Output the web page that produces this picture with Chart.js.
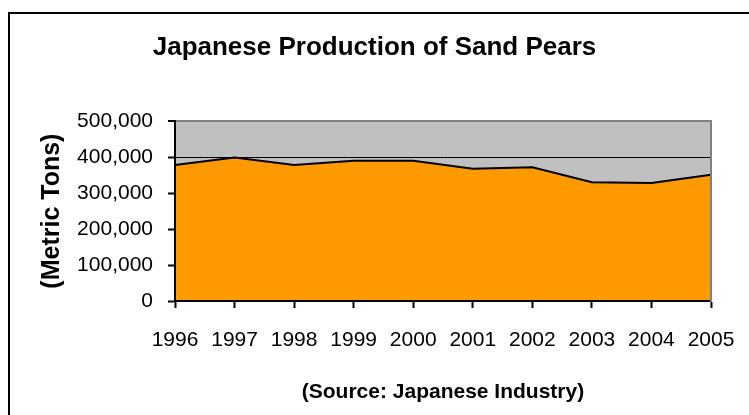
<!DOCTYPE html>
<html>
<head>
<meta charset="utf-8">
<script src="https://cdn.jsdelivr.net/npm/chart.js@4"></script>
<style>
  html, body { margin: 0; padding: 0; background: #fff; overflow: hidden; }
  #wrap { position: relative; width: 749px; height: 415px; }
  #chart { position: absolute; left: 0; top: 0; }
  /* chart frame, cropped on the right and bottom like the original */
  .frame {
    position: absolute; left: 8px; top: 12px; width: 800px; height: 500px;
    border: 2px solid #000; pointer-events: none;
  }
</style>
</head>
<body>
<div id="wrap">
  <canvas id="chart" width="749" height="415"></canvas>
  <div class="frame"></div>
</div>
<script>
// data
const years = ["1996", "1997", "1998", "1999", "2000", "2001", "2002", "2003", "2004", "2005"];
const production = [378000, 399000, 378000, 390000, 390000, 368000, 372000, 330000, 328000, 351000];
const yTicks = [0, 100000, 200000, 300000, 400000, 500000];

const chartTitle = "Japanese Production of Sand Pears";
const yTitle = "(Metric Tons)";
const sourceNote = "(Source: Japanese Industry)";

const family = "'Liberation Sans', Arial, sans-serif";

// grey plot background
const plotBackground = {
  id: "plotBackground",
  beforeDraw(chart) {
    const { ctx, chartArea } = chart;
    ctx.save();
    ctx.fillStyle = "#C0C0C0";
    ctx.fillRect(chartArea.left, chartArea.top, chartArea.right - chartArea.left, chartArea.bottom - chartArea.top);
    ctx.restore();
  },
};

var ctx = document.getElementById("chart").getContext("2d");

new Chart(ctx, {
  type: "line",
  data: {
    labels: years,
    datasets: [
      {
        label: "Production",
        data: production,
        borderColor: "#000",
        borderWidth: 2,
        backgroundColor: "#FF9900",
        fill: "origin",
        pointRadius: 0,
        tension: 0,
      },
    ],
  },
  options: {
    responsive: false,
    animation: false,
    layout: { padding: 0 },
    plugins: {
      legend: { display: false },
      tooltip: { enabled: false },
      title: {
        display: true,
        text: chartTitle,
        color: "#000",
        font: { family: family, size: 26, weight: "bold" },
        padding: { top: 32, bottom: 58 },
      },
    },
    scales: {
      x: {
        offset: false,
        grid: {
          display: true,
          drawOnChartArea: false,
          drawTicks: true,
          tickLength: 7,
          tickColor: "#000",
          tickWidth: 2,
        },
        border: { display: true, color: "#000", width: 2, z: 1 },
        ticks: {
          color: "#000",
          padding: 20,
          autoSkip: false,
          maxRotation: 0,
          font: { family: family, size: 21 },
        },
        title: {
          display: true,
          text: sourceNote,
          color: "#000",
          font: { family: family, size: 21, weight: "bold" },
          padding: { top: 0, bottom: 10 },
        },
        afterFit(scale) {
          scale.height = 114;
          // the side axes already leave room for the end labels
          scale.paddingLeft = 0;
          scale.paddingRight = 0;
        },
      },
      y: {
        position: "left",
        min: 0,
        max: 500000,
        afterBuildTicks(scale) {
          scale.ticks = yTicks.map((v) => ({ value: v }));
        },
        grid: {
          display: true,
          drawOnChartArea: true,
          drawTicks: true,
          tickLength: 7,
          tickColor: "#000",
          tickWidth: 2,
          color: (c) => (c.tick && c.tick.value === 500000 ? "#808080" : "#000"),
          lineWidth: (c) => (c.tick && c.tick.value === 500000 ? 2 : 1),
        },
        border: { display: true, color: "#000", width: 2, z: 1 },
        ticks: {
          color: "#000",
          padding: 15,
          font: { family: family, size: 21 },
          callback: (v) => Number(v).toLocaleString("en-US"),
        },
        title: {
          display: true,
          text: yTitle,
          color: "#000",
          font: { family: family, size: 25, weight: "bold" },
          padding: { top: 37, bottom: 0 },
        },
        afterFit(scale) {
          scale.width = 175;
        },
      },
      // right edge of the plot: grey border and right margin
      yRight: {
        position: "right",
        min: 0,
        max: 500000,
        grid: { display: false, drawOnChartArea: false, drawTicks: false },
        border: { display: true, color: "#808080", width: 2, z: 1 },
        ticks: { display: false },
        afterFit(scale) {
          scale.width = 38;
        },
      },
    },
  },
  plugins: [plotBackground],
});
</script>
</body>
</html>
